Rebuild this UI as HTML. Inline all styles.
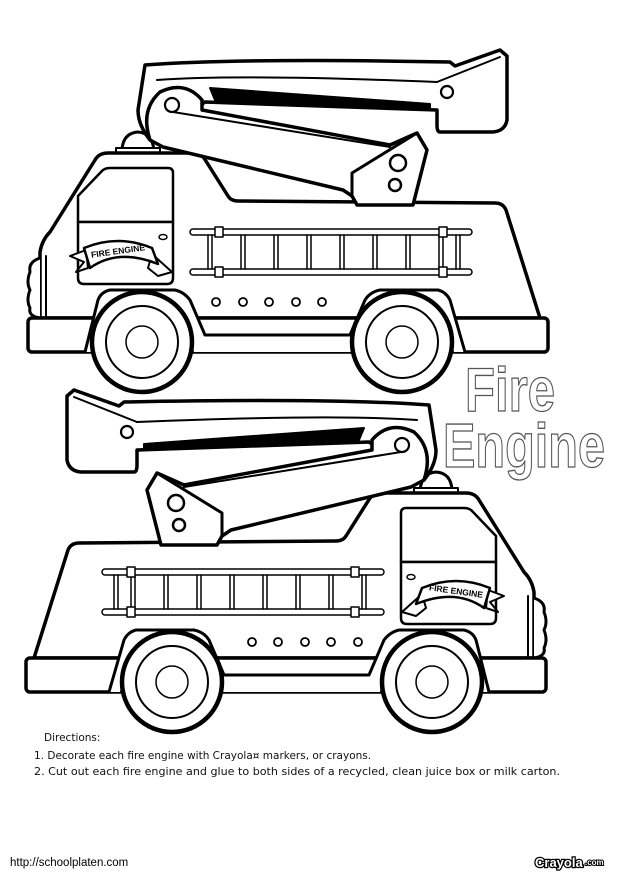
<!DOCTYPE html>
<html><head><meta charset="utf-8"><style>
html,body{margin:0;padding:0;background:#fff;}
svg{display:block;}
</style></head><body>
<svg width="618" height="874" viewBox="0 0 618 874" xmlns="http://www.w3.org/2000/svg">
<defs>
<g id="truck" fill="#fff" stroke="#000" stroke-linejoin="round" stroke-linecap="round">
  <path d="M122,150 Q123,133 138,132 Q152,133 154,150 Z" stroke-width="3"/>
  <rect x="116" y="148" width="44" height="6" stroke-width="2"/>
  <path d="M40,318 L40,252 Q42,240 50,232 L95,160 Q99,153 108,153 L195,153 Q200,153 204,158 L228,196 Q231,201 238,201 L495,203 Q503,203 506,210 L540,318 Z" stroke-width="3.5"/>
  <path d="M40,258 Q28,262 30,272 Q26,282 30,290 Q26,300 30,308 Q28,316 40,318" stroke-width="3"/>
  <line x1="46" y1="256" x2="46" y2="318" stroke-width="2"/>
  <rect x="28" y="318" width="520" height="34" rx="4" stroke-width="3.5"/>
  <path d="M78,222 L78,196 L101,172 Q104,168 110,168 L168,168 Q173,168 173,173 L173,222 Z" stroke-width="2.5"/>
  <path d="M78,222 L173,222 L173,278 Q173,284 167,284 L84,284 Q78,284 78,278 Z" stroke-width="2.5"/>
  <ellipse cx="163" cy="237" rx="4" ry="2.5" stroke-width="1.5"/>
  <path d="M70,256 L86,250 L88,268 L76,272 L84,262 Z" stroke-width="2"/>
  <path d="M152,254 L172,272 L158,276 L148,268 Z" stroke-width="2"/>
  <path d="M84,248 Q118,234 152,248 L158,264 Q118,248 90,268 Z" stroke-width="2.5"/>
  <path d="M85,352 L98,300 Q101,292 110,290 L175,290 Q184,292 190,300 L205,335 L350,335 L365,300 Q370,292 380,290 L438,290 Q446,292 450,300 L465,352" stroke-width="3"/>
  <path d="M93,352 Q100,296 142,295 Q184,296 193,352 Z" stroke-width="2" fill="#fff"/>
  <path d="M353,352 Q360,296 402,295 Q444,296 453,352 Z" stroke-width="2" fill="#fff"/>
  <circle cx="142" cy="342" r="50" stroke-width="4.5"/>
  <circle cx="142" cy="342" r="36" stroke-width="2"/>
  <circle cx="142" cy="342" r="16" stroke-width="1.5"/>
  <circle cx="402" cy="342" r="50" stroke-width="4.5"/>
  <circle cx="402" cy="342" r="36" stroke-width="2"/>
  <circle cx="402" cy="342" r="16" stroke-width="1.5"/>
  <g stroke-width="1.5">
    <rect x="190" y="229" width="282" height="6" rx="3"/>
    <rect x="190" y="269" width="282" height="6" rx="3"/>
    <g fill="none">
      <path d="M208,235 V269 M212,235 V269 M241,235 V269 M245,235 V269 M274,235 V269 M278,235 V269 M307,235 V269 M311,235 V269 M340,235 V269 M344,235 V269 M373,235 V269 M377,235 V269 M406,235 V269 M410,235 V269 M439,235 V269 M443,235 V269 M456,235 V269 M460,235 V269"/>
    </g>
    <rect x="215" y="227" width="8" height="10"/>
    <rect x="215" y="267" width="8" height="10"/>
    <rect x="439" y="227" width="8" height="10"/>
    <rect x="439" y="267" width="8" height="10"/>
  </g>
  <g stroke-width="1.8">
    <circle cx="216" cy="302" r="4"/><circle cx="243" cy="302" r="4"/><circle cx="269" cy="302" r="4"/><circle cx="296" cy="302" r="4"/><circle cx="322" cy="302" r="4"/>
  </g>
  <path d="M145,65 Q240,58 450,62 L455,66 L500,50 L507,56 L507,120 Q505,131 493,132 L440,132 Q437,132 437,125 L437,110 L205,102 L150,140 Q138,125 138,110 Z" stroke-width="3.5"/>
  <path d="M157,80 Q240,74 437,82" fill="none" stroke-width="2"/>
  <path d="M437,82 L500,57" fill="none" stroke-width="2"/>
  <path d="M210,88 L430,104 L430,110 L215,100 Z" fill="#000" stroke-width="2"/>
  <circle cx="447" cy="92" r="6" stroke-width="2.2"/>
  <path d="M150,140 Q140,110 160,92 Q185,80 202,100 L202,110 L390,145 L417,133 L427,150 L413,205 L357,205 L352,196 L343,190 L163,147 Z" stroke-width="3.5"/>
  <path d="M173,112 L390,147" fill="none" stroke-width="2"/>
  <path d="M352,196 L352,173 L417,133" fill="none" stroke-width="3"/>
  <circle cx="172" cy="105" r="7" stroke-width="2.2"/>
  <circle cx="398" cy="163" r="8" stroke-width="2.5"/>
  <circle cx="395" cy="185" r="6" stroke-width="2.5"/>
</g>
</defs>

<use href="#truck"/>
<text x="118" y="254" font-family="Liberation Sans, sans-serif" font-weight="bold" font-size="8.5" text-anchor="middle" transform="rotate(-8 118 251)">FIRE ENGINE</text>

<g transform="translate(574,340) scale(-1,1)"><use href="#truck"/></g>
<text x="456" y="594" font-family="Liberation Sans, sans-serif" font-weight="bold" font-size="8.5" text-anchor="middle" transform="rotate(8 456 591)">FIRE ENGINE</text>

<g font-family="Liberation Sans, sans-serif" font-weight="bold" fill="#fff" stroke="#555" stroke-width="1.3">
  <text x="465" y="411" font-size="62" textLength="90" lengthAdjust="spacingAndGlyphs">Fire</text>
  <text x="443" y="467" font-size="62" textLength="162" lengthAdjust="spacingAndGlyphs">Engine</text>
</g>

<g font-family="'Comic Sans MS', 'DejaVu Sans', sans-serif" font-size="10.5" fill="#111">
  <text x="44" y="741">Directions:</text>
  <text x="34" y="759">1. Decorate each fire engine with Crayola¤ markers, or crayons.</text>
  <text x="34" y="775" textLength="526" lengthAdjust="spacingAndGlyphs">2. Cut out each fire engine and glue to both sides of a recycled, clean juice box or milk carton.</text>
</g>
<text x="10" y="866" font-family="Liberation Sans, sans-serif" font-size="11.5" fill="#000">http://schoolplaten.com</text>
<text x="535" y="867" font-family="Liberation Sans, sans-serif" font-weight="bold" font-size="13" fill="#fff" stroke="#000" stroke-width="2.5" paint-order="stroke">Crayola</text>
<text x="585" y="865" font-family="Liberation Sans, sans-serif" font-weight="bold" font-size="8" fill="#fff" stroke="#000" stroke-width="2" paint-order="stroke">.com</text>
</svg>
</body></html>
